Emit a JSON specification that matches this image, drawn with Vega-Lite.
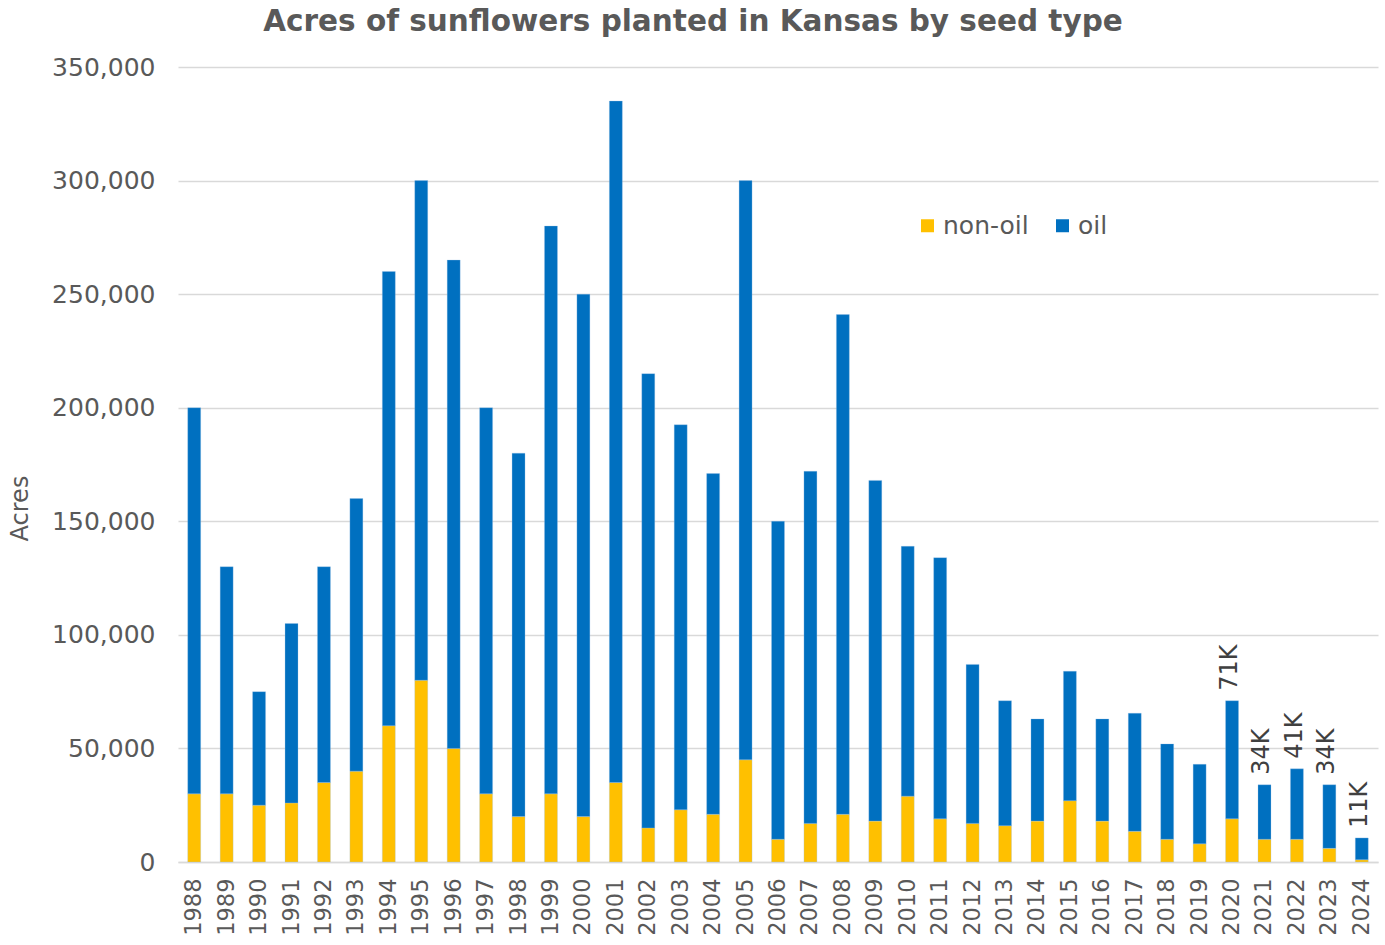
{
  "$schema": "https://vega.github.io/schema/vega-lite/v6.json",
  "width": 1200,
  "height": 795,
  "autosize": "none",
  "padding": {"left": 178, "top": 67, "right": 7, "bottom": 83},
  "background": "white",
  "title": {
    "text": "Acres of sunflowers planted in Kansas by seed type",
    "font": "DejaVu Sans",
    "fontSize": 29.5,
    "fontWeight": "bold",
    "color": "#595959",
    "anchor": "middle",
    "dx": -85,
    "offset": 18
  },
  "config": {
    "view": {"stroke": null},
    "font": "DejaVu Sans"
  },
  "datasets": {
    "bars": [
      {"year": 1988, "type": "non-oil", "acres": 30000}, {"year": 1988, "type": "oil", "acres": 170000},
      {"year": 1989, "type": "non-oil", "acres": 30000}, {"year": 1989, "type": "oil", "acres": 100000},
      {"year": 1990, "type": "non-oil", "acres": 25000}, {"year": 1990, "type": "oil", "acres": 50000},
      {"year": 1991, "type": "non-oil", "acres": 26000}, {"year": 1991, "type": "oil", "acres": 79000},
      {"year": 1992, "type": "non-oil", "acres": 35000}, {"year": 1992, "type": "oil", "acres": 95000},
      {"year": 1993, "type": "non-oil", "acres": 40000}, {"year": 1993, "type": "oil", "acres": 120000},
      {"year": 1994, "type": "non-oil", "acres": 60000}, {"year": 1994, "type": "oil", "acres": 200000},
      {"year": 1995, "type": "non-oil", "acres": 80000}, {"year": 1995, "type": "oil", "acres": 220000},
      {"year": 1996, "type": "non-oil", "acres": 50000}, {"year": 1996, "type": "oil", "acres": 215000},
      {"year": 1997, "type": "non-oil", "acres": 30000}, {"year": 1997, "type": "oil", "acres": 170000},
      {"year": 1998, "type": "non-oil", "acres": 20000}, {"year": 1998, "type": "oil", "acres": 160000},
      {"year": 1999, "type": "non-oil", "acres": 30000}, {"year": 1999, "type": "oil", "acres": 250000},
      {"year": 2000, "type": "non-oil", "acres": 20000}, {"year": 2000, "type": "oil", "acres": 230000},
      {"year": 2001, "type": "non-oil", "acres": 35000}, {"year": 2001, "type": "oil", "acres": 300000},
      {"year": 2002, "type": "non-oil", "acres": 15000}, {"year": 2002, "type": "oil", "acres": 200000},
      {"year": 2003, "type": "non-oil", "acres": 23000}, {"year": 2003, "type": "oil", "acres": 169500},
      {"year": 2004, "type": "non-oil", "acres": 21000}, {"year": 2004, "type": "oil", "acres": 150000},
      {"year": 2005, "type": "non-oil", "acres": 45000}, {"year": 2005, "type": "oil", "acres": 255000},
      {"year": 2006, "type": "non-oil", "acres": 10000}, {"year": 2006, "type": "oil", "acres": 140000},
      {"year": 2007, "type": "non-oil", "acres": 17000}, {"year": 2007, "type": "oil", "acres": 155000},
      {"year": 2008, "type": "non-oil", "acres": 21000}, {"year": 2008, "type": "oil", "acres": 220000},
      {"year": 2009, "type": "non-oil", "acres": 18000}, {"year": 2009, "type": "oil", "acres": 150000},
      {"year": 2010, "type": "non-oil", "acres": 29000}, {"year": 2010, "type": "oil", "acres": 110000},
      {"year": 2011, "type": "non-oil", "acres": 19000}, {"year": 2011, "type": "oil", "acres": 115000},
      {"year": 2012, "type": "non-oil", "acres": 17000}, {"year": 2012, "type": "oil", "acres": 70000},
      {"year": 2013, "type": "non-oil", "acres": 16000}, {"year": 2013, "type": "oil", "acres": 55000},
      {"year": 2014, "type": "non-oil", "acres": 18000}, {"year": 2014, "type": "oil", "acres": 45000},
      {"year": 2015, "type": "non-oil", "acres": 27000}, {"year": 2015, "type": "oil", "acres": 57000},
      {"year": 2016, "type": "non-oil", "acres": 18000}, {"year": 2016, "type": "oil", "acres": 45000},
      {"year": 2017, "type": "non-oil", "acres": 13500}, {"year": 2017, "type": "oil", "acres": 52000},
      {"year": 2018, "type": "non-oil", "acres": 10000}, {"year": 2018, "type": "oil", "acres": 42000},
      {"year": 2019, "type": "non-oil", "acres": 8000}, {"year": 2019, "type": "oil", "acres": 35000},
      {"year": 2020, "type": "non-oil", "acres": 19000}, {"year": 2020, "type": "oil", "acres": 52000},
      {"year": 2021, "type": "non-oil", "acres": 10000}, {"year": 2021, "type": "oil", "acres": 24000},
      {"year": 2022, "type": "non-oil", "acres": 10000}, {"year": 2022, "type": "oil", "acres": 31000},
      {"year": 2023, "type": "non-oil", "acres": 6000}, {"year": 2023, "type": "oil", "acres": 28000},
      {"year": 2024, "type": "non-oil", "acres": 1000}, {"year": 2024, "type": "oil", "acres": 9600}
    ],
    "labels": [
      {"year": 2020, "total": 71000, "label": "71K"},
      {"year": 2021, "total": 34000, "label": "34K"},
      {"year": 2022, "total": 41000, "label": "41K"},
      {"year": 2023, "total": 34000, "label": "34K"},
      {"year": 2024, "total": 10600, "label": "11K"}
    ]
  },
  "layer": [
    {
      "data": {"name": "bars"},
      "mark": {"type": "bar", "stroke": "#9DC3E6", "strokeWidth": 0.5, "strokeOpacity": 0.6},
      "encoding": {
        "x": {
          "field": "year",
          "type": "ordinal",
          "scale": {"paddingInner": 0.6, "paddingOuter": 0.3},
          "axis": {
            "title": null,
            "labelAngle": 270,
            "labelFont": "DejaVu Sans",
            "labelFontSize": 22.5,
            "labelColor": "#595959",
            "labelPadding": 16,
            "ticks": false,
            "domainColor": "#D9D9D9",
            "domainWidth": 1.5
          }
        },
        "y": {
          "field": "acres",
          "type": "quantitative",
          "stack": "zero",
          "scale": {"domain": [0, 350000], "nice": false},
          "axis": {
            "title": "Acres",
            "titleFont": "DejaVu Sans",
            "titleFontSize": 24,
            "titleFontWeight": "normal",
            "titleColor": "#595959",
            "titleAngle": 270,
            "titleX": -158,
            "titleY": 441,
            "titleAlign": "center",
            "titleBaseline": "middle",
            "values": [0, 50000, 100000, 150000, 200000, 250000, 300000, 350000],
            "format": ",.0f",
            "labelFont": "DejaVu Sans",
            "labelFontSize": 25,
            "labelColor": "#595959",
            "labelPadding": 23,
            "ticks": false,
            "domain": false,
            "gridColor": "#D9D9D9",
            "gridWidth": 1.5
          }
        },
        "color": {
          "field": "type",
          "type": "nominal",
          "scale": {"domain": ["non-oil", "oil"], "range": ["#FFC000", "#0070C0"]},
          "legend": {
            "title": null,
            "orient": "none",
            "legendX": 737,
            "legendY": 146,
            "direction": "horizontal",
            "symbolType": "square",
            "symbolSize": 169,
            "symbolStrokeWidth": 0,
            "labelFont": "DejaVu Sans",
            "labelFontSize": 25,
            "labelColor": "#595959",
            "labelOffset": 3,
            "columnPadding": 21,
            "padding": 0
          }
        },
        "order": {"field": "type", "sort": "ascending"}
      }
    },
    {
      "data": {"name": "labels"},
      "mark": {
        "type": "text",
        "angle": 270,
        "align": "left",
        "baseline": "middle",
        "dx": 10,
        "dy": -2,
        "font": "DejaVu Sans",
        "fontSize": 24,
        "color": "#404040"
      },
      "encoding": {
        "x": {"field": "year", "type": "ordinal"},
        "y": {"field": "total", "type": "quantitative"},
        "text": {"field": "label"}
      }
    }
  ]
}
